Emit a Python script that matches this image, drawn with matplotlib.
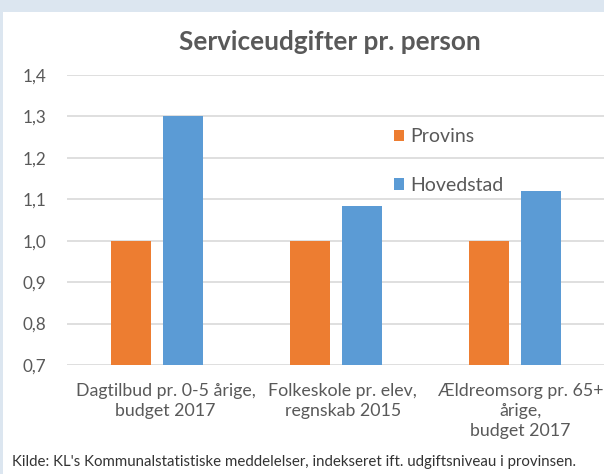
import matplotlib.pyplot as plt
import matplotlib.patches as mpatches
import matplotlib.transforms as mtransforms
import numpy as np

categories = ["Dagtilbud pr. 0-5 årige,\nbudget 2017",
              "Folkeskole pr. elev,\nregnskab 2015",
              "Ældreomsorg pr. 65+\nårige,\nbudget 2017"]
provins = [1.0, 1.0, 1.0]
hovedstad = [1.30, 1.085, 1.12]
yticks = [0.7, 0.8, 0.9, 1.0, 1.1, 1.2, 1.3, 1.4]

plt.rcParams['font.family'] = ['Lato', 'DejaVu Sans']

gray = "#595959"
orange = "#ED7D31"
blue = "#5B9BD5"

fig = plt.figure(figsize=(6.04, 4.74), dpi=100, facecolor="#DCE6F0")
# white chart panel
fig.patches.append(mpatches.Rectangle((3 / 604, 0), 1, 1 - 12 / 474,
                                      transform=fig.transFigure,
                                      facecolor="white", edgecolor="none", zorder=-5))

ax = fig.add_axes([67 / 604, 1 - 365 / 474, 1 - 67 / 604, (365 - 75) / 474])
ax.set_facecolor("none")

x = np.arange(len(categories))
w = 40 / 179
off = 26 / 179
ax.bar(x - off, provins, w, bottom=0, color=orange, label="Provins", zorder=3)
ax.bar(x + off, hovedstad, w, bottom=0, color=blue, label="Hovedstad", zorder=3)

ax.set_ylim(0.7, 1.4)
ax.set_xlim(-0.5, 2.5)
ax.set_yticks(yticks)
ax.set_yticklabels([f"{v:.1f}".replace(".", ",") for v in yticks],
                   color=gray, fontsize=12.3)
ax.set_xticks(x)
ax.set_xticklabels([])
ax.tick_params(axis="both", length=0)
ax.tick_params(axis="y", pad=15)
ax.grid(axis="y", color="#D9D9D9", linewidth=1.2, zorder=0)
for s in ax.spines.values():
    s.set_visible(False)

# category labels (Excel places them a bit right of the bar groups)
label_shift = [0.05, 0.04, 0.034]
trans = mtransforms.blended_transform_factory(ax.transData, ax.transAxes)
for i, lab in enumerate(categories):
    ax.text(x[i] + label_shift[i], -18 / 290, lab, transform=trans,
            ha="center", va="top", fontsize=12.8, color=gray,
            linespacing=1.32, clip_on=False)

ax.legend(loc="upper left", bbox_to_anchor=(376 / 604, 1 - 111 / 474),
          bbox_transform=fig.transFigure, frameon=False, fontsize=14,
          labelcolor=gray, handlelength=0.55, handleheight=0.55,
          handletextpad=0.3, labelspacing=1.6)

fig.text(330 / 604, 1 - 42 / 474, "Serviceudgifter pr. person", ha="center",
         va="center", fontsize=18.8, fontweight="bold", color=gray)
fig.text(12 / 604, 1 - 462 / 474,
         "Kilde: KL's Kommunalstatistiske meddelelser, indekseret ift. udgiftsniveau i provinsen.",
         ha="left", va="center", fontsize=10.8, color="#333333")

fig.savefig("out.png", dpi=100, facecolor=fig.get_facecolor())
